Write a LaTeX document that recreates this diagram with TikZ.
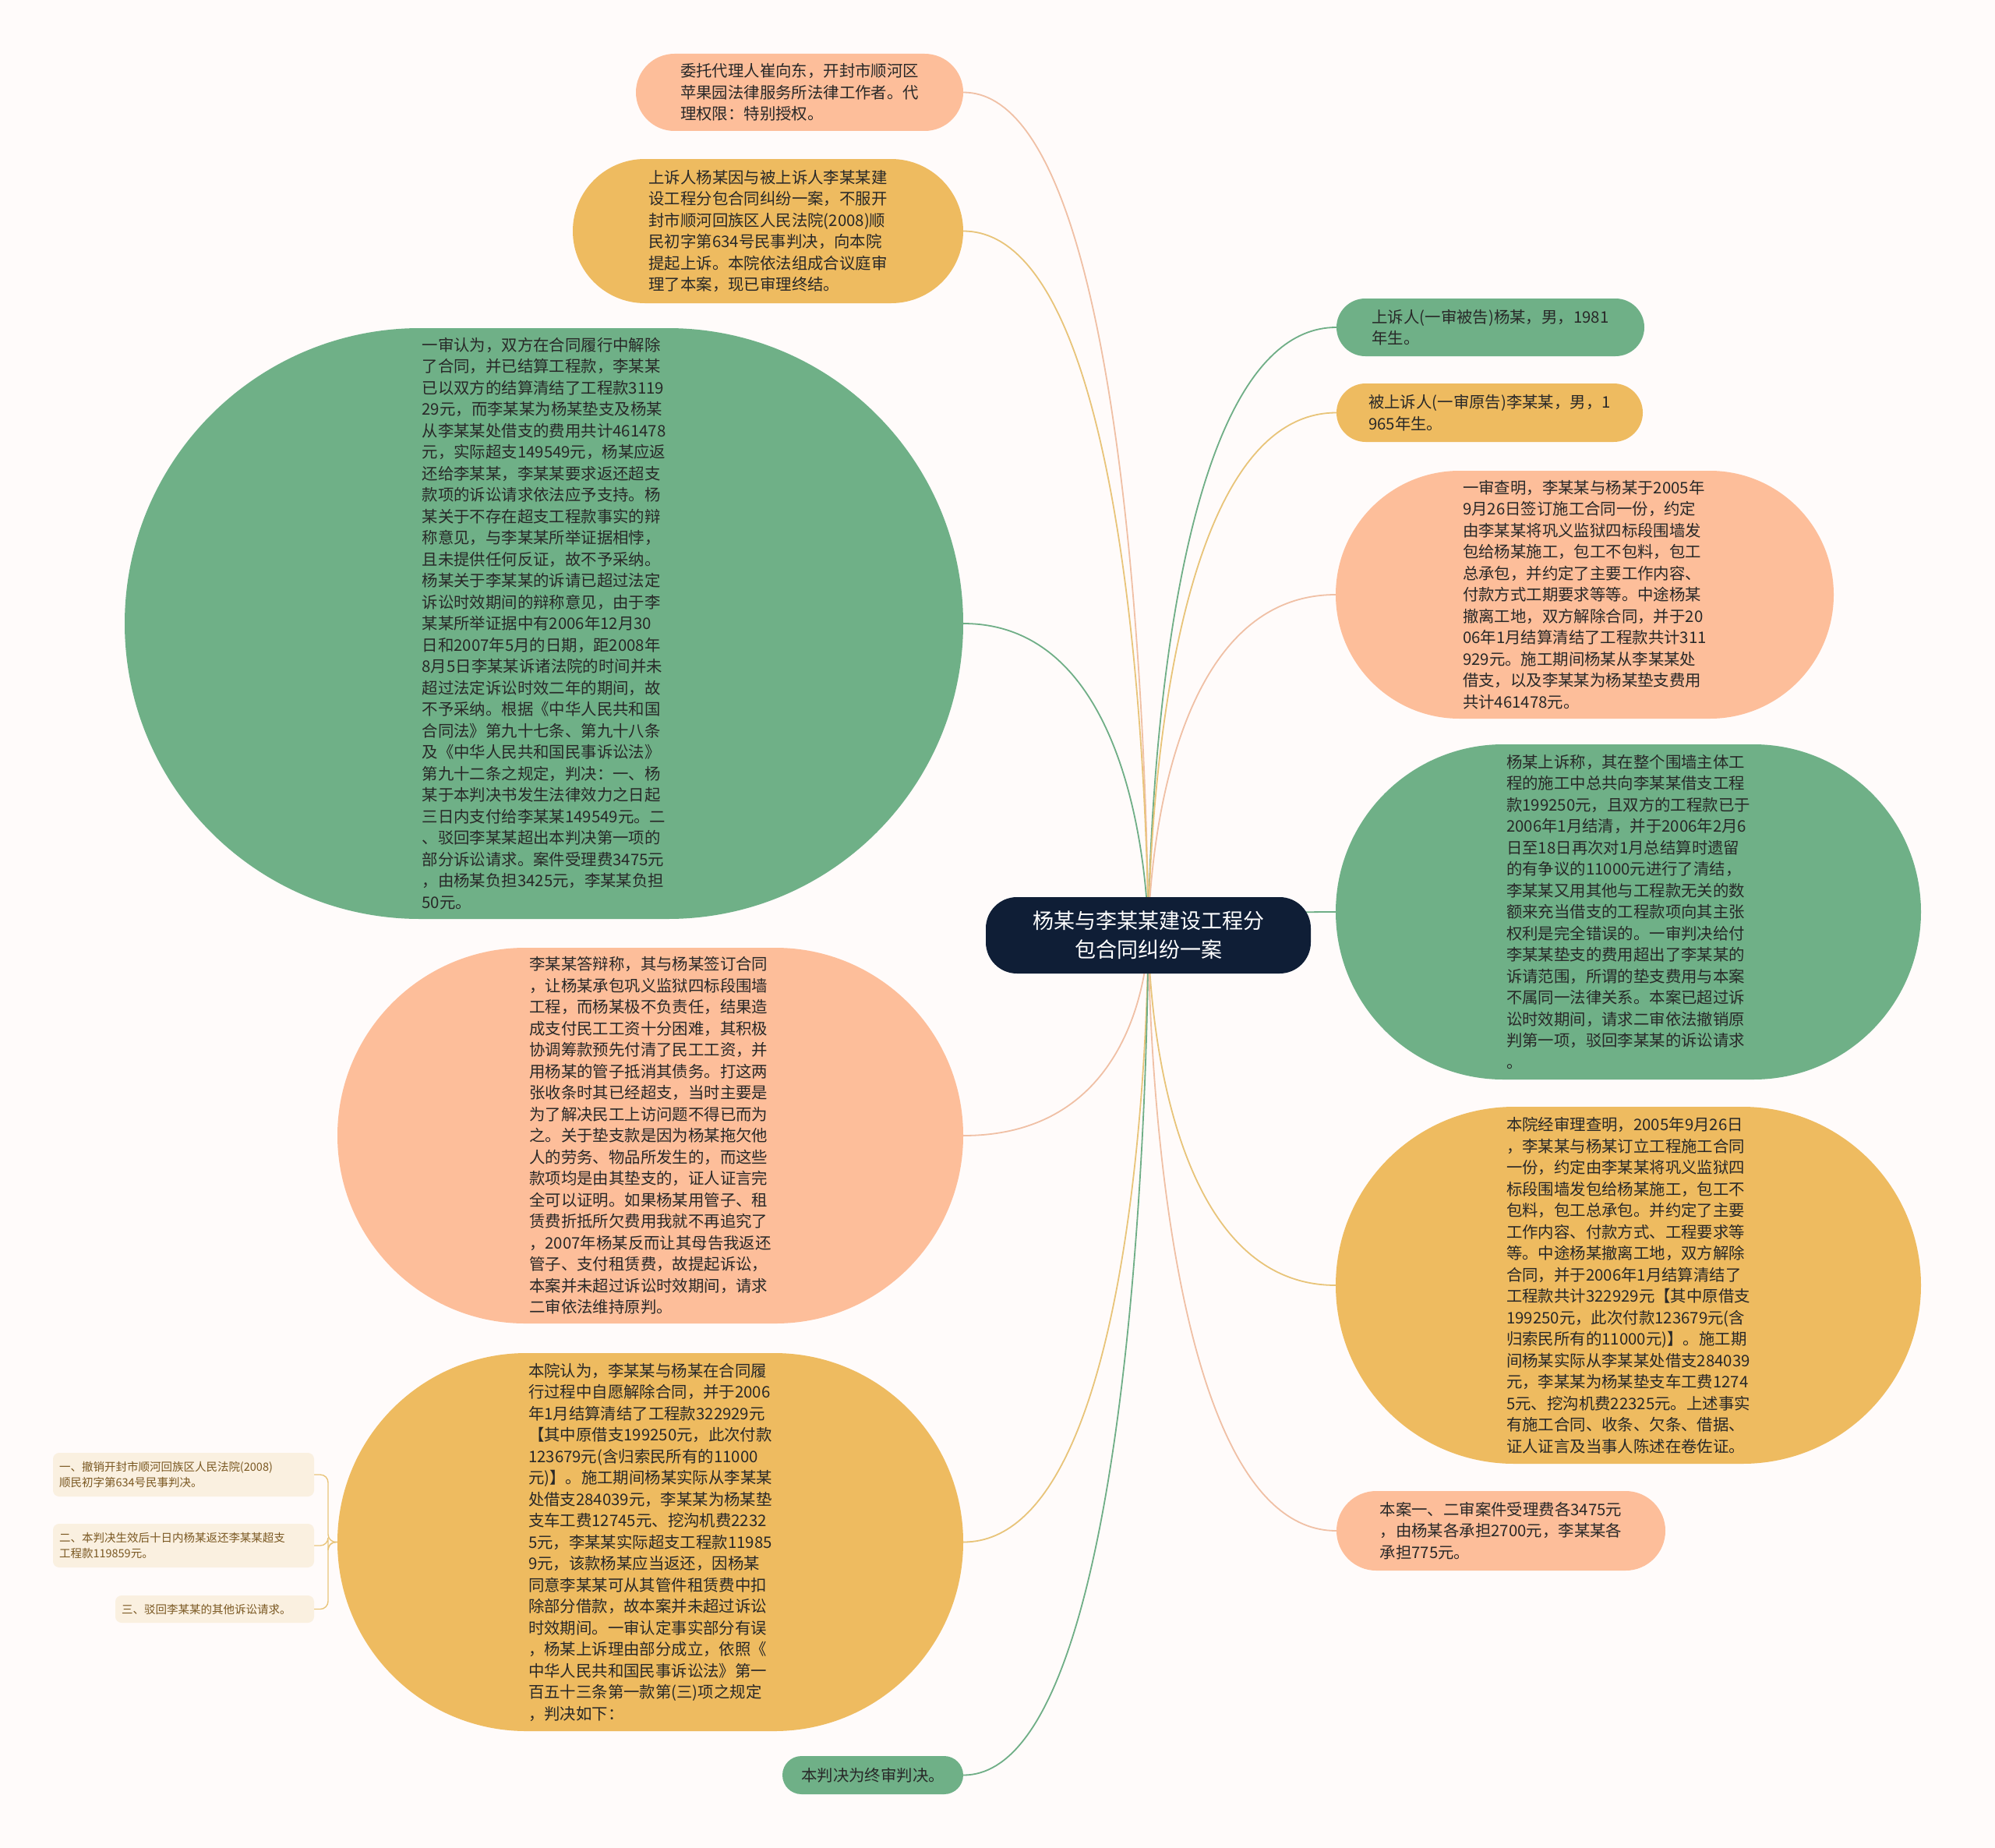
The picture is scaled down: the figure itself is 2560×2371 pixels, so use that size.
\documentclass[tikz,border=0pt]{standalone}
\usepackage{fontspec}
\newfontfamily\cjk{Noto Sans CJK SC}
\usetikzlibrary{shapes.misc}

\definecolor{bgpaper}{RGB}{255,251,250}
\definecolor{leafgreen}{RGB}{111,176,135}
\definecolor{leaforange}{RGB}{238,187,96}
\definecolor{leafpeach}{RGB}{253,190,154}
\definecolor{rootnavy}{RGB}{15,30,54}
\definecolor{inktext}{RGB}{40,40,40}
\definecolor{notefill}{RGB}{250,240,224}
\definecolor{notetext}{RGB}{122,88,34}
\definecolor{wiregreen}{RGB}{111,174,134}
\definecolor{wireorange}{RGB}{232,196,121}
\definecolor{wirepeach}{RGB}{240,192,165}

\pgfdeclarelayer{back}
\pgfdeclarelayer{edges}
\pgfsetlayers{back,edges,main}

\tikzset{
  leaf/.style={rounded rectangle, inner sep=0pt, align=left, text=inktext,
    font=\cjk\fontsize{20.4}{27.5}\selectfont},
  greenleaf/.style={leaf, fill=leafgreen},
  orangeleaf/.style={leaf, fill=leaforange},
  peachleaf/.style={leaf, fill=leafpeach},
  note/.style={rectangle, rounded corners=8pt, fill=notefill, inner xsep=8pt, inner ysep=0pt,
    align=left, text=notetext, font=\cjk\fontsize{14.5}{20}\selectfont},
  wire/.style={draw=#1, line width=1.8pt},
}

\begin{document}
\begin{tikzpicture}[x=1pt,y=-1pt]
  \begin{pgfonlayer}{back}
    \fill[bgpaper] (0,0) rectangle (2560,2371);
  \end{pgfonlayer}
  \useasboundingbox (0,0) rectangle (2560,2371);

  % centre
  \node[rectangle, rounded corners=40pt, fill=rootnavy, text=white, align=center,
    minimum width=417pt, minimum height=98pt, inner sep=0pt,
    font=\cjk\fontsize{27}{37.5}\selectfont] (root) at (1473.5,1200)
    {杨某与李某某建设工程分\\包合同纠纷一案};

  % left branches
  \node[peachleaf, minimum width=420pt, minimum height=99pt] (agent) at (1026,118.5)
    {委托代理人崔向东，开封市顺河区\\苹果园法律服务所法律工作者。代\\理权限：特别授权。};
  \node[orangeleaf, minimum width=501pt, minimum height=185pt] (appeal) at (985.5,296.5)
    {上诉人杨某因与被上诉人李某某建\\设工程分包合同纠纷一案，不服开\\封市顺河回族区人民法院(2008)顺\\民初字第634号民事判决，向本院\\提起上诉。本院依法组成合议庭审\\理了本案，现已审理终结。};
  \node[greenleaf, minimum width=1076pt, minimum height=758pt] (firstview) at (698,800)
    {一审认为，双方在合同履行中解除\\了合同，并已结算工程款，李某某\\已以双方的结算清结了工程款3119\\29元，而李某某为杨某垫支及杨某\\从李某某处借支的费用共计461478\\元，实际超支149549元，杨某应返\\还给李某某，李某某要求返还超支\\款项的诉讼请求依法应予支持。杨\\某关于不存在超支工程款事实的辩\\称意见，与李某某所举证据相悖，\\且未提供任何反证，故不予采纳。\\杨某关于李某某的诉请已超过法定\\诉讼时效期间的辩称意见，由于李\\某某所举证据中有2006年12月30\\日和2007年5月的日期，距2008年\\8月5日李某某诉诸法院的时间并未\\超过法定诉讼时效二年的期间，故\\不予采纳。根据《中华人民共和国\\合同法》第九十七条、第九十八条\\及《中华人民共和国民事诉讼法》\\第九十二条之规定，判决：一、杨\\某于本判决书发生法律效力之日起\\三日内支付给李某某149549元。二\\、驳回李某某超出本判决第一项的\\部分诉讼请求。案件受理费3475元\\，由杨某负担3425元，李某某负担\\50元。};
  \node[peachleaf, minimum width=803pt, minimum height=482pt] (defence) at (834.5,1457)
    {李某某答辩称，其与杨某签订合同\\，让杨某承包巩义监狱四标段围墙\\工程，而杨某极不负责任，结果造\\成支付民工工资十分困难，其积极\\协调筹款预先付清了民工工资，并\\用杨某的管子抵消其债务。打这两\\张收条时其已经超支，当时主要是\\为了解决民工上访问题不得已而为\\之。关于垫支款是因为杨某拖欠他\\人的劳务、物品所发生的，而这些\\款项均是由其垫支的，证人证言完\\全可以证明。如果杨某用管子、租\\赁费折抵所欠费用我就不再追究了\\，2007年杨某反而让其母告我返还\\管子、支付租赁费，故提起诉讼，\\本案并未超过诉讼时效期间，请求\\二审依法维持原判。};
  \node[orangeleaf, minimum width=803pt, minimum height=485pt] (courtview) at (834.5,1978.5)
    {本院认为，李某某与杨某在合同履\\行过程中自愿解除合同，并于2006\\年1月结算清结了工程款322929元\\【其中原借支199250元，此次付款\\123679元(含归索民所有的11000\\元)】。施工期间杨某实际从李某某\\处借支284039元，李某某为杨某垫\\支车工费12745元、挖沟机费2232\\5元，李某某实际超支工程款11985\\9元，该款杨某应当返还，因杨某\\同意李某某可从其管件租赁费中扣\\除部分借款，故本案并未超过诉讼\\时效期间。一审认定事实部分有误\\，杨某上诉理由部分成立，依照《\\中华人民共和国民事诉讼法》第一\\百五十三条第一款第(三)项之规定\\，判决如下：};
  \node[greenleaf, minimum width=232pt, minimum height=49pt] (final) at (1120,2277.5)
    {本判决为终审判决。};

  % judgement items
  \node[note, text width=319pt, minimum height=56pt] (item1) at (235.5,1892)
    {一、撤销开封市顺河回族区人民法院(2008)\\顺民初字第634号民事判决。};
  \node[note, text width=319pt, minimum height=56pt] (item2) at (235.5,1983)
    {二、本判决生效后十日内杨某返还李某某超支\\工程款119859元。};
  \node[note, text width=239pt, minimum height=35pt] (item3) at (275.5,2064.5)
    {三、驳回李某某的其他诉讼请求。};
  \coordinate (fork) at (421,1978.5);

  % right branches
  \node[greenleaf, minimum width=395pt, minimum height=74pt] (appellant) at (1912.5,420)
    {上诉人(一审被告)杨某，男，1981\\年生。};
  \node[orangeleaf, minimum width=393pt, minimum height=75pt] (appellee) at (1911.5,529.5)
    {被上诉人(一审原告)李某某，男，1\\965年生。};
  \node[peachleaf, minimum width=639pt, minimum height=318pt] (firstfacts) at (2033.5,763)
    {一审查明，李某某与杨某于2005年\\9月26日签订施工合同一份，约定\\由李某某将巩义监狱四标段围墙发\\包给杨某施工，包工不包料，包工\\总承包，并约定了主要工作内容、\\付款方式工期要求等等。中途杨某\\撤离工地，双方解除合同，并于20\\06年1月结算清结了工程款共计311\\929元。施工期间杨某从李某某处\\借支，以及李某某为杨某垫支费用\\共计461478元。};
  \node[greenleaf, minimum width=751pt, minimum height=430pt] (grounds) at (2089.5,1170)
    {杨某上诉称，其在整个围墙主体工\\程的施工中总共向李某某借支工程\\款199250元，且双方的工程款已于\\2006年1月结清，并于2006年2月6\\日至18日再次对1月总结算时遗留\\的有争议的11000元进行了清结，\\李某某又用其他与工程款无关的数\\额来充当借支的工程款项向其主张\\权利是完全错误的。一审判决给付\\李某某垫支的费用超出了李某某的\\诉请范围，所谓的垫支费用与本案\\不属同一法律关系。本案已超过诉\\讼时效期间，请求二审依法撤销原\\判第一项，驳回李某某的诉讼请求\\。};
  \node[orangeleaf, minimum width=751pt, minimum height=458pt] (courtfacts) at (2089.5,1649)
    {本院经审理查明，2005年9月26日\\，李某某与杨某订立工程施工合同\\一份，约定由李某某将巩义监狱四\\标段围墙发包给杨某施工，包工不\\包料，包工总承包。并约定了主要\\工作内容、付款方式、工程要求等\\等。中途杨某撤离工地，双方解除\\合同，并于2006年1月结算清结了\\工程款共计322929元【其中原借支\\199250元，此次付款123679元(含\\归索民所有的11000元)】。施工期\\间杨某实际从李某某处借支284039\\元，李某某为杨某垫支车工费1274\\5元、挖沟机费22325元。上述事实\\有施工合同、收条、欠条、借据、\\证人证言及当事人陈述在卷佐证。};
  \node[peachleaf, minimum width=422pt, minimum height=102pt] (fees) at (1926,1964)
    {本案一、二审案件受理费各3475元\\，由杨某各承担2700元，李某某各\\承担775元。};

  \begin{pgfonlayer}{edges}
    \draw[wire=wirepeach] (root.center) .. controls (root.center) and (root.center |- agent.east) .. (agent.east);
    \draw[wire=wireorange] (root.center) .. controls (root.center) and (root.center |- appeal.east) .. (appeal.east);
    \draw[wire=wiregreen] (root.center) .. controls (root.center) and (root.center |- firstview.east) .. (firstview.east);
    \draw[wire=wirepeach] (root.center) .. controls (root.center) and (root.center |- defence.east) .. (defence.east);
    \draw[wire=wireorange] (root.center) .. controls (root.center) and (root.center |- courtview.east) .. (courtview.east);
    \draw[wire=wiregreen] (root.center) .. controls (root.center) and (root.center |- final.east) .. (final.east);
    \draw[wire=wiregreen] (root.center) .. controls (root.center) and (root.center |- appellant.west) .. (appellant.west);
    \draw[wire=wireorange] (root.center) .. controls (root.center) and (root.center |- appellee.west) .. (appellee.west);
    \draw[wire=wirepeach] (root.center) .. controls (root.center) and (root.center |- firstfacts.west) .. (firstfacts.west);
    \draw[wire=wiregreen] (root.center) .. controls (root.center) and (root.center |- grounds.west) .. (grounds.west);
    \draw[wire=wireorange] (root.center) .. controls (root.center) and (root.center |- courtfacts.west) .. (courtfacts.west);
    \draw[wire=wirepeach] (root.center) .. controls (root.center) and (root.center |- fees.west) .. (fees.west);
    % judgement bracket
    \draw[wire=wireorange, line width=1.4pt, rounded corners=10pt] (item1.east) -| (fork) -- (courtview.west);
    \draw[wire=wireorange, line width=1.4pt, rounded corners=10pt] (item2.east) -| (fork) -- (courtview.west);
    \draw[wire=wireorange, line width=1.4pt, rounded corners=10pt] (item3.east) -| (fork) -- (courtview.west);
  \end{pgfonlayer}
\end{tikzpicture}
\end{document}
